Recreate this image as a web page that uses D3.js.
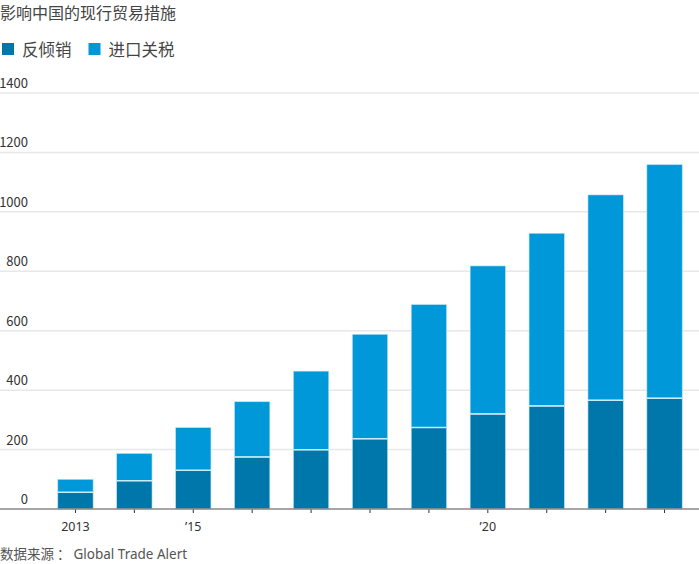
<!DOCTYPE html>
<html>
<head>
<title>影响中国的现行贸易措施</title>
<meta charset="utf-8">
<style type="text/css">
body { margin: 0; background: #fff; font-family: "Noto Sans CJK SC", "Noto Sans", sans-serif; }
svg text { fill: #333; }
</style>
</head>
<body>
<svg id="chart"></svg>

<script src="https://d3js.org/d3.v7.min.js"></script>
<script type="text/javascript">
const WIDTH = 699;
const HEIGHT = 564;

const years = [2013, 2014, 2015, 2016, 2017, 2018, 2019, 2020, 2021, 2022, 2023];
const antiDumping = [56, 95, 130, 175, 199, 236, 274, 320, 347, 366, 373];
const importTariffs = [44, 92, 144, 186, 265, 352, 414, 498, 581, 691, 786];
const yTicks = [0, 200, 400, 600, 800, 1000, 1200, 1400];
const xLabels = {2013: "2013", 2015: "\u201915", 2020: "\u201920"};

const DARK = "#0077aa";
const LIGHT = "#0098d9";

const svg = d3.select("#chart")
    .attr("width", WIDTH)
    .attr("height", HEIGHT);

// title
svg.append("text")
    .attr("x", 0).attr("y", 19)
    .attr("font-size", 16)
    .style("fill", "#444")
    .text("影响中国的现行贸易措施");

// legend
const legend = [["反倾销", DARK], ["进口关税", LIGHT]];
let lx = 2;
legend.forEach(([name, color]) => {
    svg.append("rect")
        .attr("x", lx).attr("y", 43)
        .attr("width", 12).attr("height", 12)
        .attr("fill", color);
    const t = svg.append("text")
        .attr("x", lx + 20).attr("y", 56)
        .attr("font-size", 16.5)
        .style("fill", "#444")
        .text(name);
    lx += 20 + t.node().getComputedTextLength() + 17;
});

const x = d3.scaleBand()
    .domain(years)
    .range([46, 694])
    .paddingInner(0.4)
    .paddingOuter(0.2);

const y = d3.scaleLinear()
    .domain([0, 1400])
    .range([509, 93]);

// grid + y labels
const grid = svg.append("g");
yTicks.forEach(v => {
    if (v > 0) {
        grid.append("line")
            .attr("x1", 0).attr("x2", WIDTH)
            .attr("y1", y(v)).attr("y2", y(v))
            .attr("stroke", "#e8e8e8")
            .attr("stroke-width", 1.5);
    }
    grid.append("text")
        .attr("x", 28).attr("y", y(v) - 5)
        .attr("text-anchor", "end")
        .attr("font-size", 13)
        .text(v);
});

// bars
const bars = svg.append("g");
years.forEach((yr, i) => {
    const a = antiDumping[i];
    const b = importTariffs[i];
    bars.append("rect")
        .attr("x", x(yr))
        .attr("y", y(a + b))
        .attr("width", x.bandwidth())
        .attr("height", y(a) - y(a + b))
        .attr("fill", LIGHT)
        .attr("stroke", "#bfe4f6")
        .attr("stroke-width", 0.6);
    bars.append("rect")
        .attr("x", x(yr))
        .attr("y", y(a))
        .attr("width", x.bandwidth())
        .attr("height", y(0) - y(a))
        .attr("fill", DARK)
        .attr("stroke", "#bfe4f6")
        .attr("stroke-width", 0.6);
    bars.append("line")
        .attr("x1", x(yr)).attr("x2", x(yr) + x.bandwidth())
        .attr("y1", y(a)).attr("y2", y(a))
        .attr("stroke", "#c8ecfb")
        .attr("stroke-width", 1.5);
});

// x axis
const xAxis = svg.append("g")
    .attr("transform", `translate(0,${y(0)})`)
    .call(d3.axisBottom(x).tickSize(4).tickSizeOuter(0).tickFormat(d => xLabels[d] || ""));
xAxis.select(".domain").remove();
xAxis.append("line")
    .attr("x1", 0).attr("x2", WIDTH)
    .attr("stroke", "#888")
    .attr("stroke-width", 1.5);
xAxis.selectAll(".tick line").attr("stroke", "#333");
xAxis.selectAll(".tick text")
    .attr("font-size", 12.5)
    .attr("font-family", "\"Noto Sans\", sans-serif")
    .attr("y", 22)
    .attr("dy", 0)
    .style("fill", "#333");

// source
const source = svg.append("text")
    .attr("x", 0).attr("y", 559)
    .attr("font-size", 13.5)
    .attr("font-family", "\"Noto Sans\", \"Noto Sans CJK SC\", sans-serif")
    .style("fill", "#555");
source.append("tspan").attr("dx", 0).text("数据来源");
source.append("tspan").attr("dx", 3).text("：");
source.append("tspan").attr("dx", 3).text("Global Trade Alert");
</script>
</body>
</html>
